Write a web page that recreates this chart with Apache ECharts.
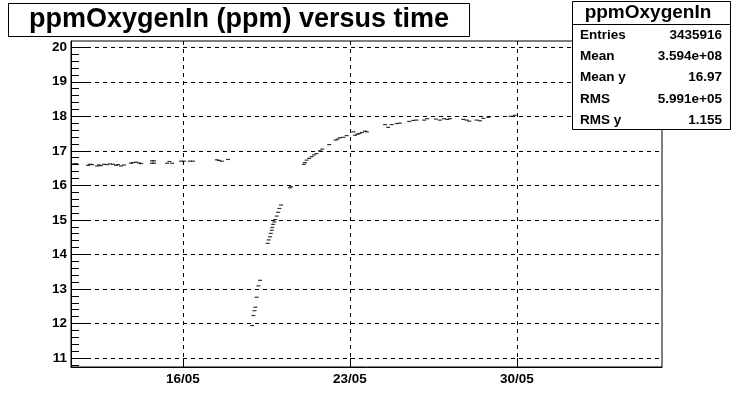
<!DOCTYPE html>
<html>
<head>
<meta charset="utf-8">
<script src="https://cdn.jsdelivr.net/npm/echarts@6/dist/echarts.min.js"></script>
<style>
html,body{margin:0;padding:0;background:#fff;}
#chart{width:735px;height:408px;}
</style>
</head>
<body>
<div id="chart"></div>
<script>
// time in days of May (fractional)
var dayOfMay = [
  11.43, 11.52, 12.02, 12.10, 12.19, 12.40, 12.48, 12.56, 12.69, 12.81, 12.94, 13.07, 13.19, 13.28, 13.40, 13.53,
  13.82, 13.90, 14.03, 14.16, 14.24, 14.70, 14.79, 14.70, 14.79, 15.33, 15.43, 15.54, 15.92, 16.04, 16.29, 16.42,
  17.42, 17.51, 17.63, 17.89,
  18.90, 18.95, 19.00, 19.03, 19.09, 19.16, 19.23,
  19.55, 19.59, 19.65, 19.68, 19.72, 19.74, 19.78, 19.83, 19.87, 19.93, 19.99, 20.04, 20.11,
  20.48, 20.53,
  21.07, 21.11, 21.18, 21.29, 21.39, 21.49, 21.60, 21.74, 21.84, 22.13, 22.40, 22.48, 22.58, 22.72, 22.86,
  23.14, 23.21, 23.31, 23.39, 23.50, 23.63, 23.71,
  24.47, 24.60, 24.75, 24.96, 25.09, 25.48, 25.65, 25.79, 26.11, 26.24, 26.60, 26.77, 26.94, 27.08, 27.19,
  27.75, 27.89, 28.00, 28.31, 28.45, 28.59, 28.80, 29.73, 29.91
];
var ppmOxygenIn = [
  16.62, 16.63, 16.58, 16.61, 16.60, 16.56, 16.59, 16.57, 16.61, 16.60, 16.62, 16.61, 16.58, 16.60, 16.56, 16.59,
  16.64, 16.66, 16.67, 16.65, 16.63, 16.71, 16.71, 16.64, 16.64, 16.64, 16.69, 16.64, 16.70, 16.70, 16.70, 16.70,
  16.74, 16.72, 16.70, 16.75,
  11.94, 12.23, 12.37, 12.47, 12.76, 13.09, 13.25,
  14.32, 14.42, 14.51, 14.61, 14.70, 14.78, 14.87, 14.94, 15.01, 15.11, 15.22, 15.33, 15.43,
  15.93, 15.96,
  16.61, 16.66, 16.73, 16.78, 16.83, 16.88, 16.92, 17.00, 17.05, 17.18, 17.31, 17.34, 17.38, 17.39, 17.44,
  17.55, 17.45, 17.48, 17.50, 17.53, 17.57, 17.55,
  17.76, 17.68, 17.76, 17.79, 17.80, 17.85, 17.88, 17.89, 17.89, 17.93, 17.92, 17.89, 17.93, 17.91, 17.93,
  17.91, 17.89, 17.86, 17.89, 17.87, 17.94, 17.97, 18.00, 18.03
];
var xTickDays = [16, 23, 30];
var yTicks = [11, 12, 13, 14, 15, 16, 17, 18, 19, 20];
var yMinorTicks = [];
for (var k = 0; k <= 47; k++) { yMinorTicks.push(+(10.8 + k * 0.2).toFixed(1)); }
var titleText = 'ppmOxygenIn (ppm) versus time';
var statsName = 'ppmOxygenIn';
var statsLabels = ['Entries', 'Mean', 'Mean y', 'RMS', 'RMS y'];
var statsValues = ['3435916', '3.594e+08', '16.97', '5.991e+05', '1.155'];

var points = dayOfMay.map(function (d, i) { return [d, ppmOxygenIn[i]]; });

var FONT = '"Liberation Sans", Arial, Helvetica, sans-serif';
var chart = echarts.init(document.getElementById('chart'));

var graphics = [
  { type: 'rect', shape: { x: 8.5, y: 3.5, width: 461, height: 33 }, style: { fill: '#fff', stroke: '#000', lineWidth: 1 }, z: 10 },
  { type: 'text', x: 239, y: 20, style: { text: titleText, font: 'bold 27px ' + FONT, fill: '#000', align: 'center', verticalAlign: 'middle' }, z: 11 },
  { type: 'rect', shape: { x: 572.5, y: 1.5, width: 158, height: 128 }, style: { fill: '#fff', stroke: '#000', lineWidth: 1 }, z: 10 },
  { type: 'line', shape: { x1: 572.5, y1: 24.5, x2: 730.5, y2: 24.5 }, style: { stroke: '#000', lineWidth: 1 }, z: 11 },
  { type: 'text', x: 648, y: 13, style: { text: statsName, font: 'bold 19px ' + FONT, fill: '#000', align: 'center', verticalAlign: 'middle' }, z: 11 }
];
statsLabels.forEach(function (lab, i) {
  var yy = 35 + i * 21.3;
  graphics.push({ type: 'text', x: 580, y: yy, style: { text: lab, font: 'bold 13.5px ' + FONT, fill: '#000', align: 'left', verticalAlign: 'middle' }, z: 11 });
  graphics.push({ type: 'text', x: 722, y: yy, style: { text: statsValues[i], font: 'bold 13.5px ' + FONT, fill: '#000', align: 'right', verticalAlign: 'middle' }, z: 11 });
});

var option = {
  animation: false,
  backgroundColor: '#fff',
  grid: { left: 71, right: 73, top: 41, bottom: 41, show: true, borderColor: '#000', borderWidth: 1, backgroundColor: 'transparent' },
  xAxis: {
    type: 'value', min: 11.306, max: 36.08,
    axisLine: { show: true, lineStyle: { color: '#000', width: 1 } },
    axisTick: { show: true, inside: true, length: 9, customValues: xTickDays, lineStyle: { color: '#000' } },
    axisLabel: { show: true, customValues: xTickDays, margin: 5, color: '#000', fontFamily: FONT, fontWeight: 'bold', fontSize: 13.5,
      formatter: function (v) { return (v < 10 ? '0' : '') + v + '/05'; } },
    splitLine: { show: true, lineStyle: { color: '#000', type: [4, 4], width: 1 } }
  },
  yAxis: [{
    type: 'value', min: 10.74, max: 20.18,
    axisLine: { show: true, lineStyle: { color: '#000', width: 1 } },
    axisTick: { show: true, inside: true, length: 17, customValues: yTicks, lineStyle: { color: '#000' } },
    axisLabel: { show: true, customValues: yTicks, margin: 4, color: '#000', fontFamily: FONT, fontWeight: 'bold', fontSize: 13.5 },
    splitLine: { show: true, lineStyle: { color: '#000', type: [4, 4], width: 1 } }
  }, {
    type: 'value', min: 10.74, max: 20.18, position: 'left', offset: 0,
    axisLine: { show: false },
    axisTick: { show: true, inside: true, length: 8, customValues: yMinorTicks, lineStyle: { color: '#000' } },
    axisLabel: { show: false },
    splitLine: { show: false }
  }],
  series: [{
    type: 'scatter',
    data: points,
    symbol: 'rect',
    symbolSize: [4, 1.2],
    itemStyle: { color: '#000' },
    silent: true
  }],
  graphic: graphics
};
chart.setOption(option);
</script>
</body>
</html>
